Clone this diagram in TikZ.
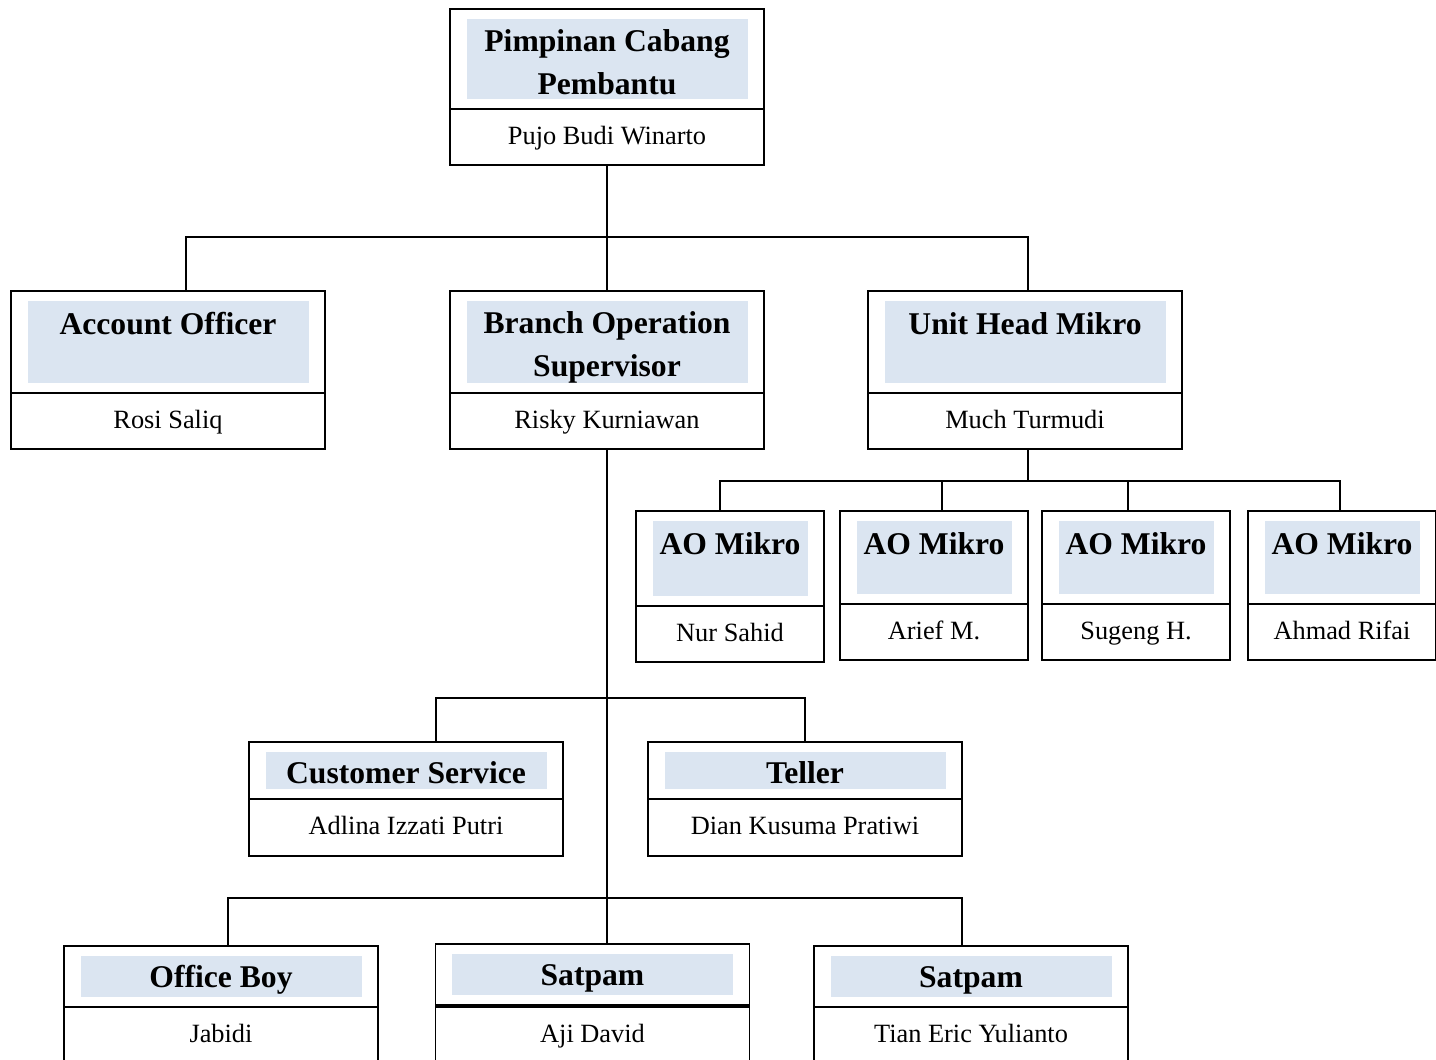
\documentclass[tikz,border=0pt]{standalone}
\usepackage{fontspec}
\setmainfont{Liberation Serif}
\usetikzlibrary{positioning}
\definecolor{bandblau}{HTML}{DBE5F1}
\tikzset{
  kopf/.style={draw, line width=1.1pt, outer sep=0pt, inner sep=0pt, minimum width=6.28cm, minimum height=2.04cm,
    path picture={\fill[bandblau] ([xshift=0.33cm,yshift=-0.2cm]path picture bounding box.north west) rectangle ([xshift=-0.33cm,yshift=0.2cm]path picture bounding box.south east);}},
  titel/.style={anchor=base, align=center, inner sep=0pt, font=\fontsize{18}{24}\selectfont\bfseries},
  person/.style={draw, line width=1.1pt, outer sep=0pt, inner sep=0pt, minimum width=6.28cm, minimum height=1.12cm, text height=10pt, text depth=2pt, font=\fontsize{15}{18}\selectfont},
  linie/.style={line width=1.1pt}
}
\begin{document}
\begin{tikzpicture}
\useasboundingbox (0,0) rectangle (28.72,-21.18);
% Kaesten
\node[kopf, minimum height=2cm] (pimpinankopf) at (12.14,-1.18) {};
\node[titel] (pimpinantitel) at ([yshift=-1.7cm]pimpinankopf.north) {Pimpinan Cabang\\Pembantu};
\node[person, below=0pt of pimpinankopf] (pimpinanperson) {Pujo Budi Winarto};

\node[kopf] (aokopf) at (3.36,-6.84) {};
\node[titel] (aotitel) at ([yshift=-0.86cm]aokopf.north) {Account Officer};
\node[person, below=0pt of aokopf] (aoperson) {Rosi Saliq};

\node[kopf] (boskopf) at (12.14,-6.84) {};
\node[titel] (bostitel) at ([yshift=-1.7cm]boskopf.north) {Branch Operation\\Supervisor};
\node[person, below=0pt of boskopf] (bosperson) {Risky Kurniawan};

\node[kopf] (unitkopf) at (20.5,-6.84) {};
\node[titel] (unittitel) at ([yshift=-0.86cm]unitkopf.north) {Unit Head Mikro};
\node[person, below=0pt of unitkopf] (unitperson) {Much Turmudi};

\node[kopf, minimum width=3.76cm, minimum height=1.9cm] (aomikroonekopf) at (14.6,-11.17) {};
\node[titel] (aomikroonetitel) at ([yshift=-0.86cm]aomikroonekopf.north) {AO Mikro};
\node[person, minimum width=3.76cm, below=0pt of aomikroonekopf] (aomikrooneperson) {Nur Sahid};

\node[kopf, minimum width=3.76cm, minimum height=1.86cm] (aomikrotwokopf) at (18.68,-11.15) {};
\node[titel] (aomikrotwotitel) at ([yshift=-0.86cm]aomikrotwokopf.north) {AO Mikro};
\node[person, minimum width=3.76cm, below=0pt of aomikrotwokopf] (aomikrotwoperson) {Arief M.};

\node[kopf, minimum width=3.76cm, minimum height=1.86cm] (aomikrothreekopf) at (22.72,-11.15) {};
\node[titel] (aomikrothreetitel) at ([yshift=-0.86cm]aomikrothreekopf.north) {AO Mikro};
\node[person, minimum width=3.76cm, below=0pt of aomikrothreekopf] (aomikrothreeperson) {Sugeng H.};

\node[kopf, minimum width=3.76cm, minimum height=1.86cm] (aomikrofourkopf) at (26.84,-11.15) {};
\node[titel] (aomikrofourtitel) at ([yshift=-0.86cm]aomikrofourkopf.north) {AO Mikro};
\node[person, minimum width=3.76cm, below=0pt of aomikrofourkopf] (aomikrofourperson) {Ahmad Rifai};

\node[kopf, minimum height=1.14cm] (cskopf) at (8.12,-15.41) {};
\node[titel] (cstitel) at ([yshift=-0.82cm]cskopf.north) {Customer Service};
\node[person, minimum height=1.14cm, below=0pt of cskopf] (csperson) {Adlina Izzati Putri};

\node[kopf, minimum height=1.14cm] (tellerkopf) at (16.1,-15.41) {};
\node[titel] (tellertitel) at ([yshift=-0.82cm]tellerkopf.north) {Teller};
\node[person, minimum height=1.14cm, below=0pt of tellerkopf] (tellerperson) {Dian Kusuma Pratiwi};

\node[kopf, minimum height=1.22cm] (officeboykopf) at (4.42,-19.53) {};
\node[titel] (officeboytitel) at ([yshift=-0.82cm]officeboykopf.north) {Office Boy};
\node[person, below=0pt of officeboykopf] (officeboyperson) {Jabidi};

\node[kopf, minimum height=1.22cm] (satpamonekopf) at (11.85,-19.49) {};
\node[titel] (satpamonetitel) at ([yshift=-0.82cm]satpamonekopf.north) {Satpam};
\node[person, below=0.04cm of satpamonekopf] (satpamoneperson) {Aji David};

\node[kopf, minimum height=1.22cm] (satpamtwokopf) at (19.42,-19.53) {};
\node[titel] (satpamtwotitel) at ([yshift=-0.82cm]satpamtwokopf.north) {Satpam};
\node[person, below=0pt of satpamtwokopf] (satpamtwoperson) {Tian Eric Yulianto};

% Linien
\draw[linie] (pimpinanperson.south) -- ++(0,-1.44) coordinate (astone);
\draw[linie] ([xshift=0.36cm]aokopf.north) |- (astone) -| ([xshift=0.06cm]unitkopf.north);
\draw[linie] (astone) -- (boskopf.north);

\draw[linie] ([xshift=0.06cm]unitperson.south) -- ++(0,-0.64) coordinate (asttwo);
\draw[linie] ([xshift=-0.2cm]aomikroonekopf.north) |- (asttwo) -| ([xshift=-0.04cm]aomikrofourkopf.north);
\draw[linie] ([xshift=0.16cm]aomikrotwokopf.north) |- (asttwo);
\draw[linie] ([xshift=-0.16cm]aomikrothreekopf.north) |- (asttwo);

\draw[linie] (bosperson.south) -- ++(0,-4.98) coordinate (astthree) -- ++(0,-4) coordinate (astfour);
\draw[linie] ([xshift=0.6cm]cskopf.north) |- (astthree) -| (tellerkopf.north);
\draw[linie] ([xshift=0.14cm]officeboykopf.north) |- (astfour) -| ([xshift=-0.18cm]satpamtwokopf.north);
\draw[linie] (astfour) -- (astfour |- satpamonekopf.north);
\end{tikzpicture}
\end{document}
